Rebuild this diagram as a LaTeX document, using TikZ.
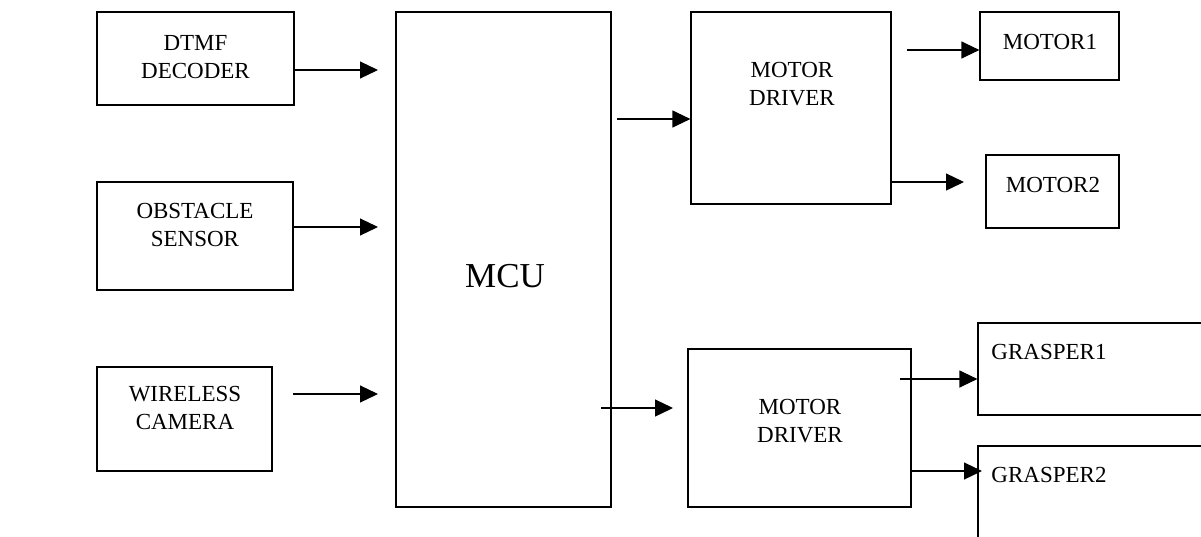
\documentclass[tikz,border=0pt]{standalone}
\usepackage{fontspec}
\setmainfont{Liberation Serif}
\usetikzlibrary{arrows.meta}
\begin{document}
\begin{tikzpicture}[x=1pt,y=-1pt,
  blk/.style={draw=black,line width=1.2pt,inner sep=0pt},
  lbl/.style={align=center,inner sep=0pt,font=\fontsize{23}{28}\selectfont},
  arr/.style={line width=1.2pt,-{Triangle[length=18pt,width=17pt]}}]
\clip (0,0) rectangle (1201,536);
\fill[white] (0,0) rectangle (1201,536);
% boxes
\path[blk] (97,12) rectangle (294,105) coordinate (dtmfSE);
\node[inner sep=0pt] (dtmf) at (195.5,58.5) [minimum width=197pt,minimum height=93pt] {};
\node[lbl] (dtmft) at (195.5,57) {DTMF\\DECODER};

\node[blk,minimum width=196pt,minimum height=108pt] (obs) at (195,236) {};
\node[lbl] (obst) at (195,225) {OBSTACLE\\SENSOR};

\node[blk,minimum width=175pt,minimum height=104pt] (wir) at (184.5,419) {};
\node[lbl] (wirt) at (185,408) {WIRELESS\\CAMERA};

\node[blk,minimum width=215pt,minimum height=495pt] (mcu) at (503.5,259.5) {};
\node[inner sep=0pt,font=\fontsize{35}{40}\selectfont] (mcut) at (505,276) {MCU};

\node[blk,minimum width=200pt,minimum height=192pt] (md1) at (791,108) {};
\node[lbl] (md1t) at (792,84) {MOTOR\\DRIVER};

\node[blk,minimum width=139pt,minimum height=68pt] (m1) at (1049.5,46) {};
\node[lbl] (m1t) at (1050,42) {MOTOR1};

\node[blk,minimum width=133pt,minimum height=73pt] (m2) at (1052.5,191.5) {};
\node[lbl] (m2t) at (1053,185) {MOTOR2};

\node[blk,minimum width=223pt,minimum height=158pt] (md2) at (799.5,428) {};
\node[lbl] (md2t) at (800,421) {MOTOR\\DRIVER};

\node[blk,minimum width=240pt,minimum height=92pt] (g1) at (1098,369) {};
\node[lbl] (g1t) at (1049,352) {GRASPER1};

\node[blk,minimum width=240pt,minimum height=130pt] (g2) at (1098,511) {};
\node[lbl] (g2t) at (1049,475) {GRASPER2};

\draw[blk] (97,12) rectangle (294,105);

% free end points
\coordinate (a1) at (378,70);
\coordinate (a2) at (378,227);
\coordinate (a3s) at (293,394);
\coordinate (a3) at (378,394);
\coordinate (b1s) at (617,119);
\coordinate (c1s) at (907,50);
\coordinate (c2) at (964,182);
\coordinate (d1s) at (601,408);
\coordinate (d1) at (673,408);
\coordinate (e1s) at (900,379);
\coordinate (e2) at (982,471);

% connectors
\draw[arr] (dtmf.east |- a1) -- (a1);
\draw[arr] (obs.east |- a2) -- (a2);
\draw[arr] (a3s) -- (a3);
\draw[arr] (b1s) -- (md1.west |- b1s);
\draw[arr] (c1s) -- (m1.west |- c1s);
\draw[arr] (md1.east |- c2) -- (c2);
\draw[arr] (d1s) -- (d1);
\draw[arr] (e1s) -- (g1.west |- e1s);
\draw[arr] (md2.east |- e2) -- (e2);
\end{tikzpicture}
\end{document}
